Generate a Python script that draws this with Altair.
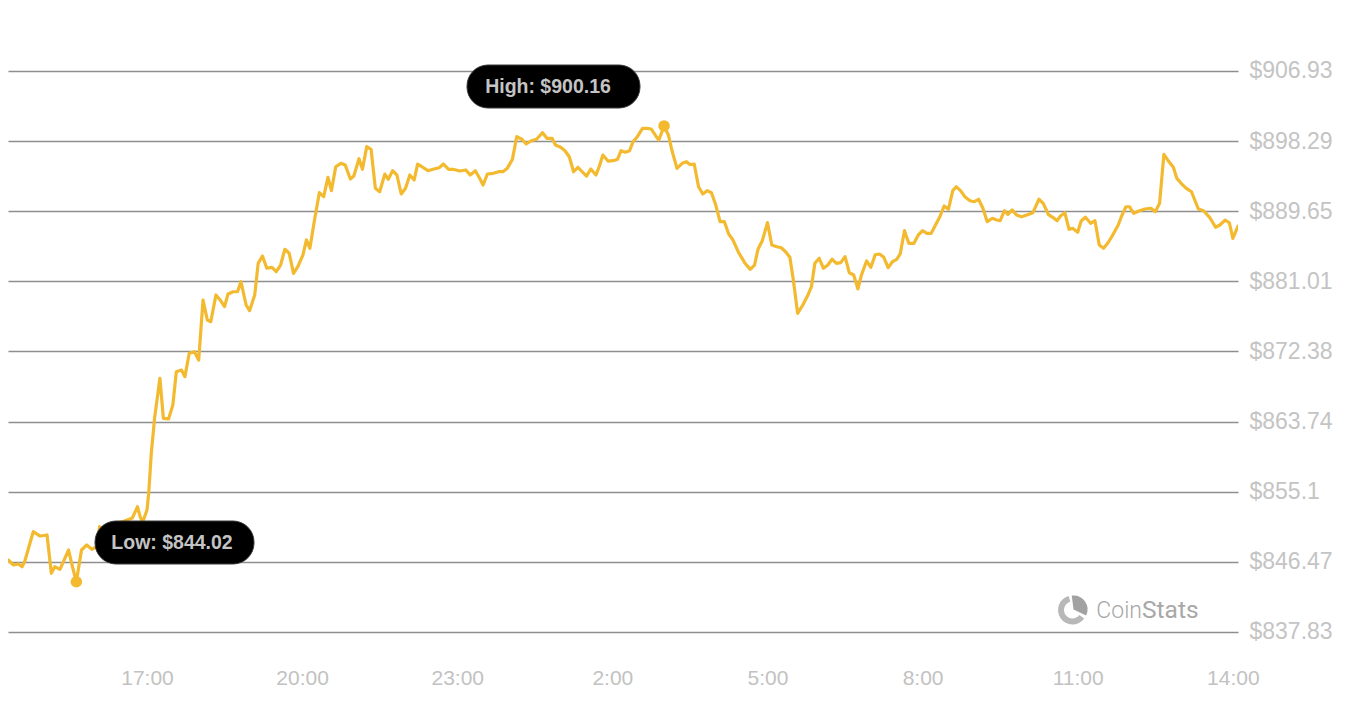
import altair as alt
import pandas as pd

# minutes after 14:00 of the first day, and price in USD
MINUTES = [
    9, 19, 25, 31, 35, 38, 48, 56, 64, 69,
    73, 79, 89, 93, 98, 104, 110, 116, 122, 125,
    130, 137, 146, 154, 163, 169, 172, 175, 180, 182,
    185, 189, 195, 199, 205, 210, 214, 220, 224, 229,
    235, 240, 245, 250, 254, 260, 265, 270, 274, 280,
    285, 289, 295, 299, 305, 309, 314, 319, 325, 330,
    335, 340, 345, 350, 355, 361, 365, 369, 375, 380,
    385, 390, 394, 399, 405, 410, 416, 420, 426, 430,
    435, 440, 445, 450, 456, 460, 465, 470, 475, 480,
    485, 490, 494, 499, 506, 512, 519, 524, 530, 535,
    543, 550, 555, 561, 566, 570, 575, 582, 588, 593,
    598, 604, 609, 615, 620, 626, 632, 639, 644, 650,
    654, 660, 665, 670, 675, 680, 685, 690, 695, 701,
    705, 709, 715, 721, 726, 730, 735, 740, 744, 749,
    755, 760, 765, 771, 774, 780, 785, 789, 795, 801,
    806, 810, 815, 820, 825, 830, 835, 840, 845, 850,
    855, 860, 866, 874, 880, 885, 889, 894, 900, 905,
    911, 916, 921, 926, 930, 935, 941, 947, 951, 955,
    960, 965, 970, 975, 980, 985, 990, 995, 1000, 1005,
    1009, 1015, 1020, 1025, 1030, 1035, 1040, 1045, 1050, 1054,
    1059, 1064, 1070, 1075, 1080, 1085, 1090, 1095, 1100, 1105,
    1110, 1115, 1119, 1124, 1129, 1135, 1140, 1145, 1150, 1155,
    1161, 1166, 1170, 1175, 1179, 1184, 1189, 1195, 1201, 1208,
    1215, 1220, 1226, 1231, 1236, 1240, 1245, 1250, 1254, 1260,
    1264, 1269, 1275, 1280, 1285, 1290, 1295, 1300, 1307, 1311,
    1316, 1320, 1325, 1331, 1338, 1345, 1350, 1355, 1360, 1365,
    1371, 1375, 1380, 1386, 1392, 1400, 1406, 1413, 1420, 1425,
    1431, 1436, 1440, 1446,
]

PRICES = [
    845.06, 846.70, 846.08, 846.21, 845.87, 846.49, 850.18, 849.65, 849.78, 845.06,
    845.87, 845.55, 847.93, 846.08, 844.02, 847.93, 848.55, 848.02, 848.34, 850.80,
    850.40, 850.89, 851.26, 851.50, 851.87, 853.26, 852.03, 851.38, 852.86, 854.95,
    859.88, 864.35, 869.08, 864.15, 864.07, 865.79, 869.89, 870.10, 869.28, 872.16,
    872.36, 871.33, 878.72, 876.26, 876.05, 879.34, 878.72, 877.90, 879.46, 879.74,
    879.74, 880.98, 878.11, 877.41, 879.34, 883.24, 884.14, 882.63, 882.75, 882.21,
    883.03, 884.97, 884.48, 882.01, 882.83, 884.27, 886.12, 885.09, 888.98, 891.94,
    891.45, 893.83, 892.19, 895.14, 895.56, 895.35, 893.63, 894.00, 896.13, 894.82,
    897.61, 897.29, 892.48, 892.06, 894.24, 893.59, 894.65, 894.12, 891.78, 892.48,
    894.12, 893.50, 895.47, 895.14, 894.65, 894.82, 895.02, 895.47, 894.82, 894.82,
    894.61, 894.74, 894.12, 894.65, 893.71, 892.89, 894.24, 894.33, 894.53, 894.53,
    894.94, 896.05, 898.84, 898.52, 897.94, 898.34, 898.52, 899.33, 898.64, 898.64,
    897.81, 897.53, 897.11, 896.37, 894.52, 895.07, 894.52, 893.99, 894.86, 894.12,
    895.23, 896.58, 895.84, 895.88, 896.05, 897.11, 896.92, 897.11, 898.22, 898.84,
    899.87, 899.87, 899.79, 898.84, 898.43, 900.16, 899.05, 897.20, 894.94, 895.56,
    895.76, 895.41, 895.47, 892.68, 891.78, 892.19, 891.94, 890.42, 888.37, 888.37,
    886.85, 886.11, 884.67, 883.24, 882.50, 883.03, 884.97, 886.03, 888.25, 885.50,
    885.29, 885.16, 884.67, 883.98, 881.19, 877.08, 878.11, 879.34, 880.36, 883.24,
    883.86, 882.63, 883.03, 883.74, 883.24, 883.32, 884.06, 882.08, 881.80, 880.08,
    881.80, 883.53, 882.75, 884.30, 884.39, 883.98, 882.70, 883.44, 883.74, 884.39,
    887.26, 885.71, 885.71, 886.73, 887.26, 886.94, 886.94, 887.96, 888.98, 890.30,
    889.89, 892.19, 892.68, 892.19, 891.45, 890.95, 890.83, 891.13, 890.02, 888.37,
    888.79, 888.58, 888.49, 889.72, 889.28, 889.81, 889.19, 888.98, 889.19, 889.48,
    891.13, 890.63, 889.25, 888.91, 888.49, 889.07, 889.48, 887.43, 887.55, 887.06,
    888.45, 888.91, 888.17, 888.49, 885.50, 885.09, 885.74, 886.61, 887.96, 889.07,
    890.21, 890.21, 889.40, 889.69, 889.93, 890.02, 889.60, 890.63, 896.67, 895.88,
    895.07, 893.71, 893.10, 892.48, 892.06, 889.93, 889.72, 888.91, 887.68, 887.96,
    888.57, 888.24, 886.32, 887.83,
]

X_TICK_MINUTES = [180, 360, 540, 720, 900, 1080, 1260, 1440]
X_TICK_LABELS = ["17:00", "20:00", "23:00", "2:00", "5:00", "8:00", "11:00", "14:00"]
Y_TICKS = [837.83, 846.47, 855.1, 863.74, 872.38, 881.01, 889.65, 898.29, 906.93]

assert len(MINUTES) == len(PRICES)

df = pd.DataFrame({"minute": MINUTES, "price": PRICES})
lo = df.loc[df["price"].idxmin()]
hi = df.loc[df["price"].idxmax()]
extremes = pd.DataFrame({"minute": [lo["minute"], hi["minute"]],
                         "price": [lo["price"], hi["price"]]})

YELLOW = "#F3BA2F"
W, H = 1230, 652

x_label_expr = " : ".join(
    f"datum.value == {m} ? '{lab}'" for m, lab in zip(X_TICK_MINUTES, X_TICK_LABELS)
) + " : ''"

x_enc = alt.X(
    "minute:Q",
    title=None,
    scale=alt.Scale(domain=[18.7, 1446], nice=False, zero=False),
    axis=alt.Axis(values=X_TICK_MINUTES, labelExpr=x_label_expr, grid=False,
                  ticks=False, domain=False, labelFont="Liberation Sans",
                  labelFontSize=21, labelColor="#c2c2c2", labelPadding=7,
                  labelFlush=False, labelOverlap=False),
)
y_enc = alt.Y(
    "price:Q",
    title=None,
    scale=alt.Scale(domain=[834.38, 914.69], nice=False, zero=False),
    axis=alt.Axis(orient="right", values=Y_TICKS, labelExpr="'$' + datum.value",
                  grid=True, gridColor="#8e8e8e", gridWidth=1.5, ticks=False,
                  domain=False, labelFont="Liberation Sans", labelFontSize=23,
                  labelColor="#c4c4c4", labelPadding=11, labelOverlap=False,
                  labelFlush=False),
)

line = alt.Chart(df).mark_line(
    color=YELLOW, strokeWidth=3.2, clip=True, strokeJoin="round", strokeCap="round"
).encode(x=x_enc, y=y_enc)

dots = alt.Chart(extremes).mark_circle(color=YELLOW, size=135, opacity=1).encode(
    x="minute:Q", y="price:Q"
)

low_df = pd.DataFrame({"label": [f"Low: ${lo['price']:.2f}"]})
high_df = pd.DataFrame({"label": [f"High: ${hi['price']:.2f}"]})

box_style = dict(color="#000000", cornerRadius=21, stroke="#3a3a3a", strokeWidth=1)
text_style = dict(font="Liberation Sans", fontWeight="bold", fontSize=19.5,
                  color="#c4c4c4", align="center", baseline="middle")

low_box = alt.Chart(low_df).mark_rect(**box_style).encode(
    x=alt.value(87), x2=alt.value(246), y=alt.value(513), y2=alt.value(556))
low_text = alt.Chart(low_df).mark_text(**text_style).encode(
    x=alt.value(164), y=alt.value(535), text="label:N")
high_box = alt.Chart(high_df).mark_rect(**box_style).encode(
    x=alt.value(459), x2=alt.value(632), y=alt.value(57), y2=alt.value(100))
high_text = alt.Chart(high_df).mark_text(**text_style).encode(
    x=alt.value(540), y=alt.value(79), text="label:N")

# CoinStats watermark
wm_df = pd.DataFrame({"a": ["Coin"], "b": ["Stats"]})
ring = alt.Chart(wm_df).mark_arc(
    theta=2.2, theta2=6.02, radius=14.5, radius2=8.5, color="#b8b8b8"
).encode(x=alt.value(1064.5), y=alt.value(602))
wedge = alt.Chart(wm_df).mark_arc(
    theta=6.16, theta2=8.30, radius=14, radius2=0, color="#a2a2a2"
).encode(x=alt.value(1065.5), y=alt.value(601.5))
coin = alt.Chart(wm_df).mark_text(
    font="Roboto", fontWeight=300, fontSize=23, color="#a8a8a8",
    align="right", baseline="middle"
).encode(x=alt.value(1134), y=alt.value(603), text="a:N")
stats = alt.Chart(wm_df).mark_text(
    font="Roboto", fontWeight=400, fontSize=24.5, color="#a8a8a8",
    align="left", baseline="middle"
).encode(x=alt.value(1134), y=alt.value(603), text="b:N")

chart = alt.layer(
    line, dots, low_box, low_text, high_box, high_text, ring, wedge, coin, stats
).properties(
    width=W, height=H,
    padding={"left": 0, "top": 0, "right": 100, "bottom": 40},
    autosize=alt.AutoSizeParams(type="none"),
    background="#ffffff",
).configure_view(stroke="transparent")

chart.save("out.html", embed_options={"renderer": "svg", "actions": False})
